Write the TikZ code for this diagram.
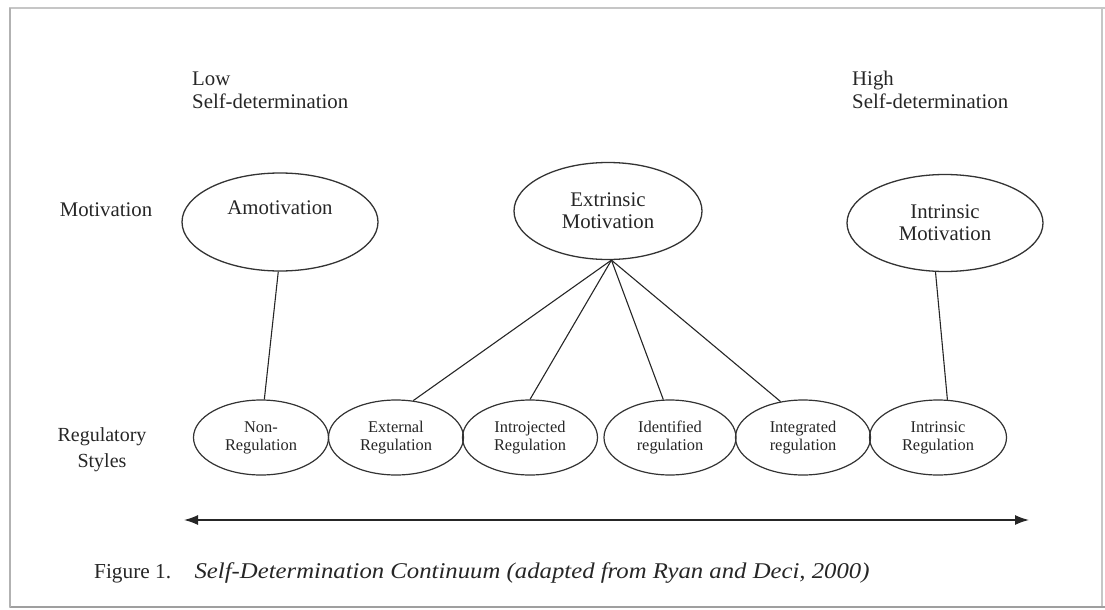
\documentclass[tikz,border=0pt]{standalone}
\usepackage{fontspec}
\setmainfont{Liberation Serif}
\usetikzlibrary{shapes.geometric,arrows.meta}
\begin{document}
\begin{tikzpicture}[x=1pt,y=-1pt,
  txt/.style={text=black!85},
  bigell/.style={ellipse,draw=black!80,line width=1.3pt,inner sep=0pt,minimum width=196pt,minimum height=98pt,align=center,txt,font=\fontsize{20.8}{22}\selectfont},
  smallell/.style={ellipse,draw=black!80,line width=1.2pt,inner sep=0pt,minimum width=135pt,minimum height=75pt,align=center,txt,font=\fontsize{16.4}{18}\selectfont},
  lbl/.style={txt,font=\fontsize{20.8}{23}\selectfont,inner sep=0pt},
  conn/.style={draw=black!85,line width=1.1pt},
  frame/.style={draw=gray!45,line width=1.5pt},
]
\useasboundingbox (0,0) rectangle (1105,610);
% frame
\draw[frame] (10,8) rectangle (1102,607);
\draw[gray!45,line width=1.5pt] (1102,8) -- (1105,8);
\draw[gray!75,line width=2.5pt] (10,607) -- (1105,607);
\draw[gray!60,line width=2pt] (10,8) -- (10,607);

% header labels
\node[lbl,anchor=west,align=left] (low) at (192,90) {Low\\Self-determination};
\node[lbl,anchor=west,align=left] (high) at (852,90) {High\\Self-determination};

% row labels
\node[lbl] (motlbl) at (106,210) {Motivation};
\node[lbl,align=center,font=\fontsize{20}{26}\selectfont] (reglbl) at (102,450) {Regulatory\\Styles};

% motivation ellipses
\node[bigell,label={[txt,font=\fontsize{20.8}{22}\selectfont,yshift=14pt]center:Amotivation}] (amo) at (280,222) {};
\node[bigell,minimum width=188pt,minimum height=97pt] (ext) at (608,211) {Extrinsic\\Motivation};
\node[bigell,minimum height=97pt] (intm) at (945,223) {Intrinsic\\Motivation};

% regulatory styles
\node[smallell] (nonreg) at (261,437.5) {Non-\\Regulation};
\node[smallell] (extreg) at (396,437.5) {External\\Regulation};
\node[smallell] (introreg) at (530,437.5) {Introjected\\Regulation};
\node[smallell,minimum width=132pt] (identreg) at (670,437.5) {Identified\\regulation};
\node[smallell] (integreg) at (803,437.5) {Integrated\\regulation};
\node[smallell,minimum width=137pt] (intreg) at (938,437.5) {Intrinsic\\Regulation};

% connectors
\draw[conn] (amo.268) -- (nonreg.85);
\draw[conn] (ext.274) -- (extreg.65);
\draw[conn] (ext.274) -- (introreg.north);
\draw[conn] (ext.274) -- (identreg.100);
\draw[conn] (ext.274) -- (integreg.122);
\draw[conn] (intm.259) -- (intreg.76);

% continuum arrow
\coordinate (aL) at (184,520);
\coordinate (aR) at (1029,520);
\draw[conn,line width=1.4pt,{Latex[length=14pt,width=10pt]}-{Latex[length=14pt,width=10pt]}] (aL) -- (aR);

% caption
\node[txt,anchor=west,inner sep=0pt,font=\fontsize{21.3}{24}\selectfont] (cap) at (94,573) {Figure 1.\hspace{1.1em}\scalebox{1.1}[1]{\fontsize{22.5}{24}\selectfont\itshape Self-Determination Continuum (adapted from Ryan and Deci, 2000)}};
\end{tikzpicture}
\end{document}
